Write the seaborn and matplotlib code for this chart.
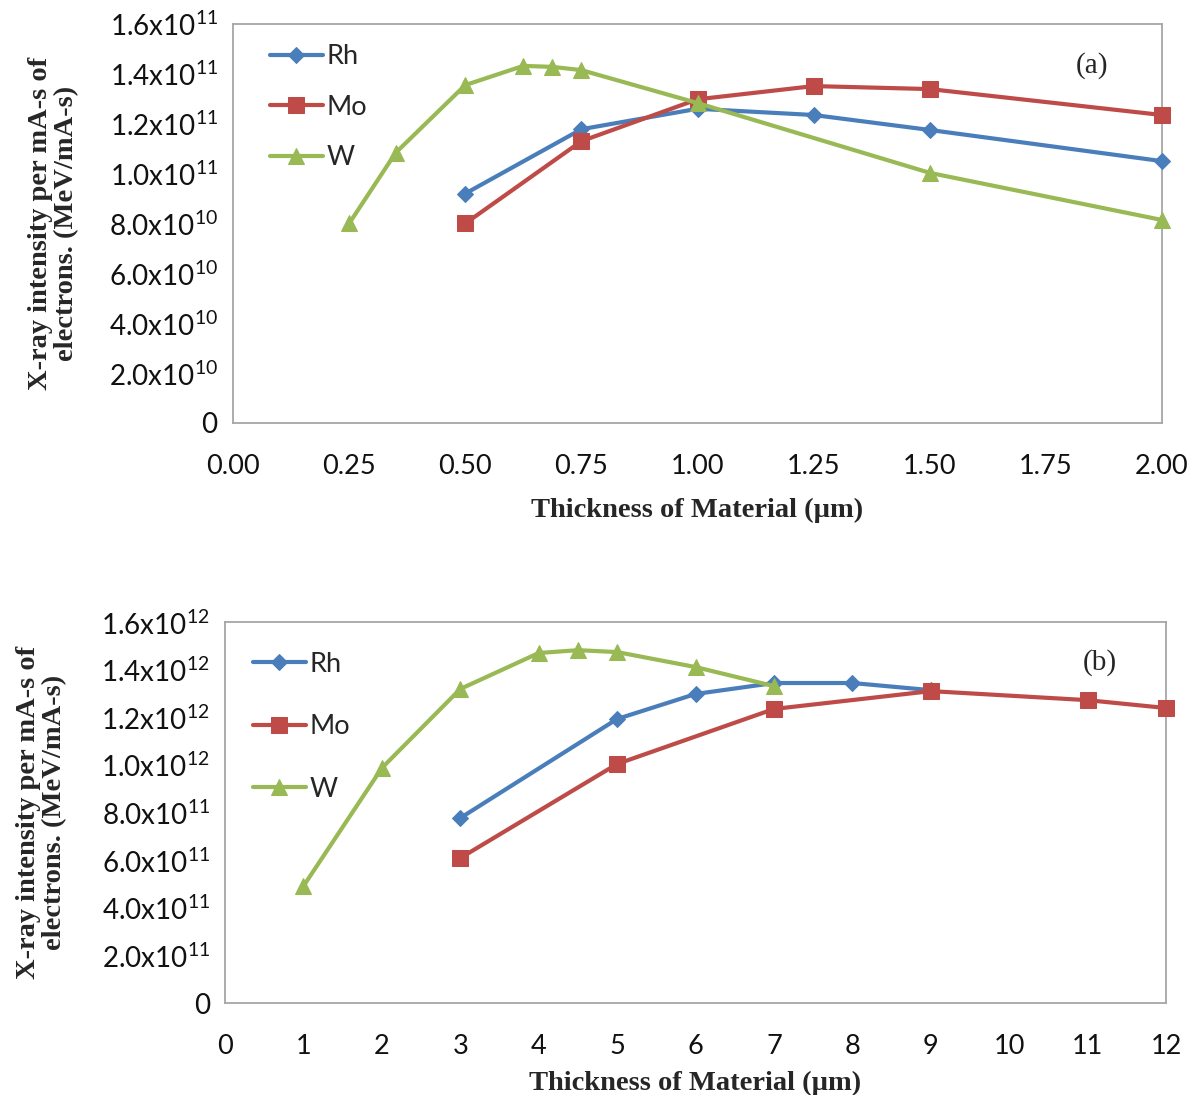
import matplotlib
matplotlib.use("Agg")
import matplotlib.pyplot as plt
import seaborn as sns
import pandas as pd
import numpy as np

sns.set_style("white")
plt.rcParams['font.family'] = ['Lato', 'DejaVu Sans']

# ---- data panel (a) ----
a_rh_x = [0.5, 0.75, 1.0, 1.25, 1.5, 2.0]
a_rh_y = [0.92e11, 1.178e11, 1.26e11, 1.235e11, 1.175e11, 1.05e11]
a_mo_x = [0.5, 0.75, 1.0, 1.25, 1.5, 2.0]
a_mo_y = [0.80e11, 1.13e11, 1.298e11, 1.351e11, 1.339e11, 1.235e11]
a_w_x = [0.25, 0.35, 0.5, 0.625, 0.6875, 0.75, 1.0, 1.5, 2.0]
a_w_y = [0.80e11, 1.083e11, 1.355e11, 1.432e11, 1.428e11, 1.415e11, 1.283e11, 1.003e11, 0.814e11]

# ---- data panel (b) ----
b_rh_x = [3, 5, 6, 7, 8, 9]
b_rh_y = [0.777e12, 1.193e12, 1.298e12, 1.344e12, 1.344e12, 1.314e12]
b_mo_x = [3, 5, 7, 9, 11, 12]
b_mo_y = [0.609e12, 1.004e12, 1.235e12, 1.310e12, 1.272e12, 1.239e12]
b_w_x = [1, 2, 3, 4, 4.5, 5, 6, 7]
b_w_y = [0.491e12, 0.987e12, 1.319e12, 1.470e12, 1.482e12, 1.474e12, 1.411e12, 1.331e12]

series_names = ["Rh", "Mo", "W"]
colors = {"Rh": "#4A7EBB", "Mo": "#BE4B48", "W": "#98B954"}
markers = {"Rh": "D", "Mo": "s", "W": "^"}
msizes = {"Rh": 8, "Mo": 11, "W": 11}

a_xticks = [0.00, 0.25, 0.50, 0.75, 1.00, 1.25, 1.50, 1.75, 2.00]
a_xticklabels = ["0.00", "0.25", "0.50", "0.75", "1.00", "1.25", "1.50", "1.75", "2.00"]
a_yticks = [0, 2e10, 4e10, 6e10, 8e10, 1e11, 1.2e11, 1.4e11, 1.6e11]
a_yticklabels = ["0", "2.0x10$^{\\mathregular{10}}$", "4.0x10$^{\\mathregular{10}}$",
                 "6.0x10$^{\\mathregular{10}}$", "8.0x10$^{\\mathregular{10}}$",
                 "1.0x10$^{\\mathregular{11}}$", "1.2x10$^{\\mathregular{11}}$",
                 "1.4x10$^{\\mathregular{11}}$", "1.6x10$^{\\mathregular{11}}$"]
b_xticks = list(range(0, 13))
b_xticklabels = [str(v) for v in b_xticks]
b_yticks = [0, 2e11, 4e11, 6e11, 8e11, 1e12, 1.2e12, 1.4e12, 1.6e12]
b_yticklabels = ["0", "2.0x10$^{\\mathregular{11}}$", "4.0x10$^{\\mathregular{11}}$",
                 "6.0x10$^{\\mathregular{11}}$", "8.0x10$^{\\mathregular{11}}$",
                 "1.0x10$^{\\mathregular{12}}$", "1.2x10$^{\\mathregular{12}}$",
                 "1.4x10$^{\\mathregular{12}}$", "1.6x10$^{\\mathregular{12}}$"]

ylabel = "X-ray intensity per mA-s of\nelectrons. (MeV/mA-s)"
xlabel = "Thickness of Material (\u00b5m)"

fig = plt.figure(figsize=(11.9, 10.95), dpi=100)
ax1 = fig.add_axes([0.1958, 0.6137, 0.7807, 0.3644])
ax2 = fig.add_axes([0.1891, 0.0840, 0.7908, 0.3479])


def draw(ax, data, xticks, xtl, yticks, ytl, xlim, ylim, tag, tagpos,
         legpos, legspacing, ylab_x, xlabpad):
    for name, (xs, ys) in zip(series_names, data):
        df = pd.DataFrame({"x": xs, "y": ys})
        sns.lineplot(data=df, x="x", y="y", ax=ax, color=colors[name], lw=3,
                     marker=markers[name], markersize=msizes[name],
                     markeredgecolor=colors[name], sort=False, label=name,
                     clip_on=False, zorder=3)
    ax.set_xlim(*xlim)
    ax.set_ylim(*ylim)
    ax.set_xticks(xticks)
    ax.set_xticklabels(xtl)
    ax.set_yticks(yticks)
    ax.set_yticklabels(ytl)
    ax.tick_params(axis="x", direction="in", length=8, width=1, color="#999999",
                   pad=22, labelsize=19.5, labelcolor="#111111")
    ax.tick_params(axis="y", direction="out", length=5, width=1, color="#999999",
                   pad=6, labelsize=20, labelcolor="#111111")
    for s in ax.spines.values():
        s.set_color("#A6A6A6")
        s.set_linewidth(1.3)
    ax.set_xlabel(xlabel, fontsize=20.5, fontweight="bold", family="Liberation Serif",
                  labelpad=xlabpad)
    ax.set_ylabel(ylabel, fontsize=20.5, fontweight="bold", family="Liberation Serif",
                  linespacing=1.05)
    ax.yaxis.set_label_coords(ylab_x, 0.5)
    ax.grid(False)
    ax.text(tagpos[0], tagpos[1], tag, transform=ax.transAxes, fontsize=21,
            family="Liberation Serif", ha="center", va="center")
    leg = ax.legend(loc="upper left", bbox_to_anchor=legpos, frameon=False,
                    fontsize=19.5, handlelength=1.95, labelspacing=legspacing,
                    handletextpad=0.15, borderaxespad=0)
    return leg


draw(ax1, [(a_rh_x, a_rh_y), (a_mo_x, a_mo_y), (a_w_x, a_w_y)],
     a_xticks, a_xticklabels, a_yticks, a_yticklabels, (0, 2.0), (0, 1.6e11),
     "(a)", (0.925, 0.897), (0.028, 0.977), 0.95, -0.166, 14)
draw(ax2, [(b_rh_x, b_rh_y), (b_mo_x, b_mo_y), (b_w_x, b_w_y)],
     b_xticks, b_xticklabels, b_yticks, b_yticklabels, (0, 12), (0, 1.6e12),
     "(b)", (0.93, 0.895), (0.018, 0.95), 1.38, -0.168, 9)

fig.savefig("out.png", dpi=100)
